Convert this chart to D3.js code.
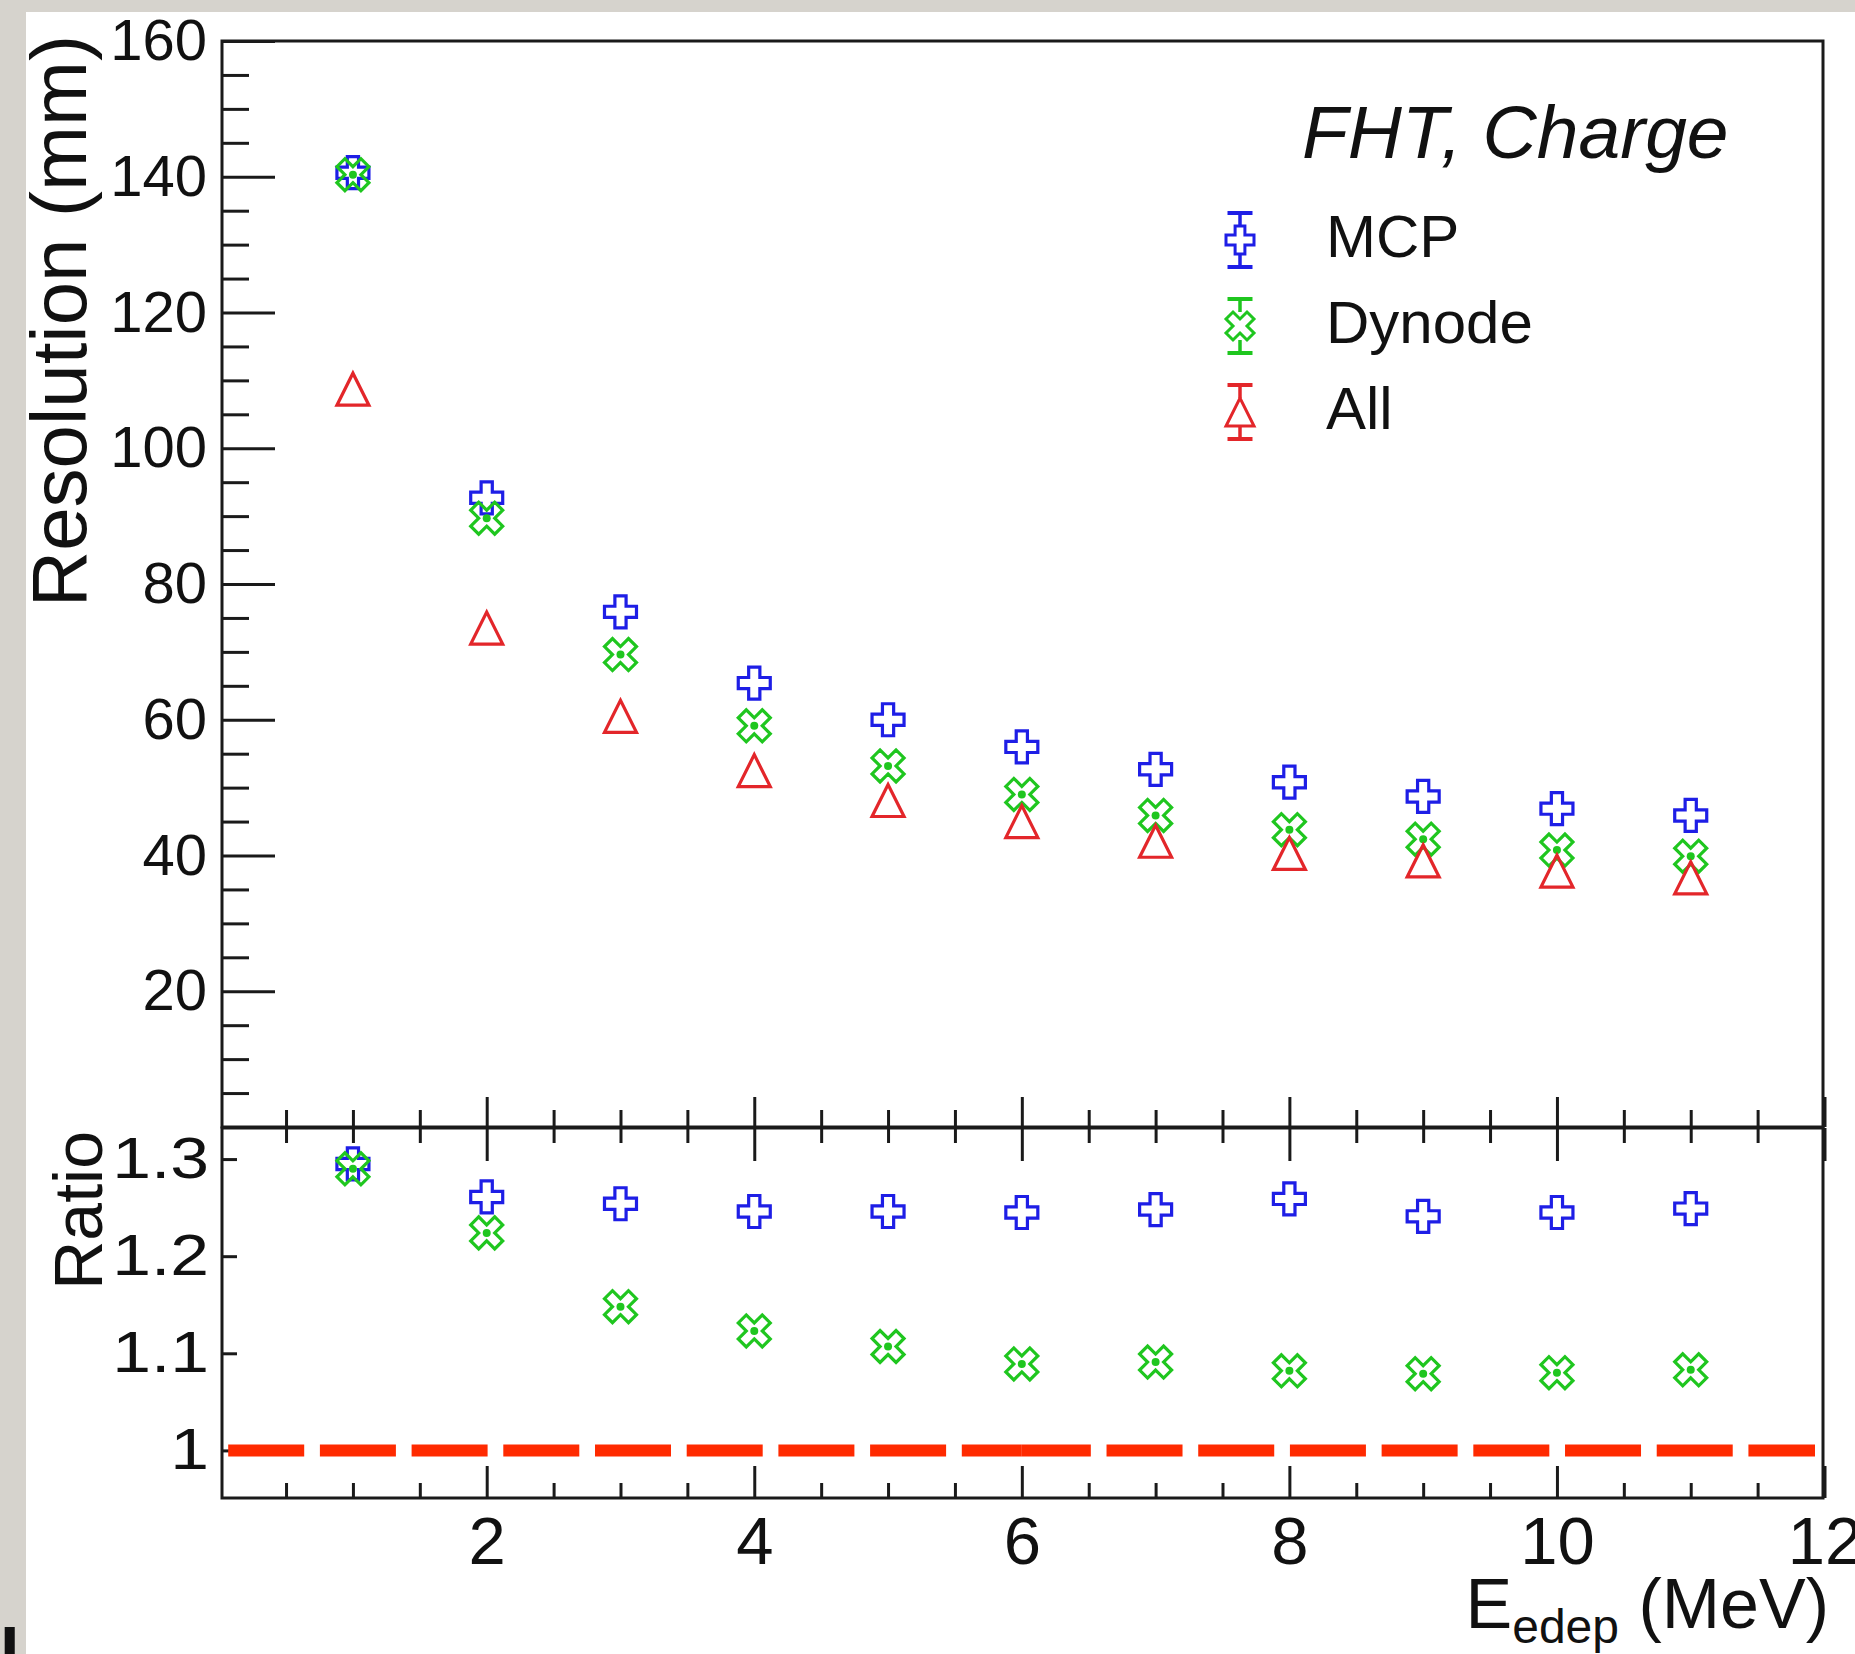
<!DOCTYPE html>
<html>
<head>
<meta charset="utf-8">
<script src="https://cdn.jsdelivr.net/npm/d3@7"></script>
<style>
  html, body { margin: 0; padding: 0; background: #d8d5cf; }
  svg { display: block; }
  text { font-family: "Liberation Sans", Arial, Helvetica, sans-serif; fill: #111; }
</style>
</head>
<body>
<svg id="chart" width="1855" height="1654"></svg>
<script>
// ---- data -------------------------------------------------------------
const energies = [1, 2, 3, 4, 5, 6, 7, 8, 9, 10, 11];           // E_edep (MeV)
const resMCP    = [140.6, 92.7, 75.9, 65.4, 60.0, 56.0, 52.7, 50.8, 48.7, 46.9, 45.9];
const resDynode = [140.3, 89.7, 69.6, 59.1, 53.2, 49.0, 45.9, 43.8, 42.4, 40.8, 39.9];
const resAll    = [108.7, 73.5, 60.5, 52.5, 48.1, 45.0, 42.1, 40.3, 39.2, 37.7, 36.7];
const ratioMCP    = [1.295, 1.261, 1.254, 1.246, 1.246, 1.245, 1.248, 1.259, 1.241, 1.245, 1.249];
const ratioDynode = [1.290, 1.224, 1.148, 1.123, 1.107, 1.089, 1.091, 1.082, 1.079, 1.080, 1.083];
const seriesNames = ["MCP", "Dynode", "All"];
const headerText = "FHT, Charge";
const xMajorTicks = [2, 4, 6, 8, 10, 12];
const yTopMajorTicks = [20, 40, 60, 80, 100, 120, 140, 160];
const yLowMajorTicks = [1, 1.1, 1.2, 1.3];
const refLineKnots = [6, 12];   // reference line y = 1 is drawn in two pieces

// ---- layout -----------------------------------------------------------
const W = 1855, H = 1654;
const F = { left: 222, right: 1823, top: 41, mid: 1127, midLow: 1128, bottom: 1498 };
const INK = "#1a1a1a";
const COL = { MCP: "#1e1ee6", Dynode: "#1fc61f", All: "#e3262a", ref: "#ff2a00" };

const svg = d3.select("#chart");
svg.append("rect").attr("width", W).attr("height", H).attr("fill", "#d6d3cd");
svg.append("rect").attr("x", 26).attr("y", 12).attr("width", W - 26).attr("height", H - 12).attr("fill", "#fff");

const x = d3.scaleLinear().domain([0.04, 12]).range([F.left + 2.5, F.right + 1.5]);
const yTop = d3.scaleLinear().domain([0, 160]).range([F.mid, F.top]);
const yLow = d3.scaleLinear().domain([0.951, 1.332]).range([F.bottom, F.midLow]);

const xMinor = d3.range(0.5, 12, 0.5).filter(v => v % 2 !== 0);
const yTopMinor = d3.range(5, 160, 5).filter(v => v % 20 !== 0);

function tidy(g) {
  g.select(".domain").remove();
  g.selectAll(".tick line").attr("stroke", INK).attr("stroke-width", 3);
  return g;
}

// ---- upper pad: axes ---------------------------------------------------
const gTopY = svg.append("g").attr("transform", `translate(${F.left},0)`)
  .call(d3.axisLeft(yTop).tickValues(yTopMajorTicks).tickSize(-53).tickPadding(15).tickFormat(d3.format("d")));
tidy(gTopY).selectAll("text").attr("font-size", 58).attr("fill", "#111");
tidy(svg.append("g").attr("transform", `translate(${F.left},0)`)
  .call(d3.axisLeft(yTop).tickValues(yTopMinor).tickSize(-27).tickFormat("")));

tidy(svg.append("g").attr("transform", `translate(0,${F.mid})`)
  .call(d3.axisBottom(x).tickValues(xMajorTicks).tickSize(-30).tickFormat("")));
tidy(svg.append("g").attr("transform", `translate(0,${F.mid})`)
  .call(d3.axisBottom(x).tickValues(xMinor).tickSize(-17).tickFormat("")));

// ---- lower pad: axes ---------------------------------------------------
tidy(svg.append("g").attr("transform", `translate(0,${F.midLow})`)
  .call(d3.axisTop(x).tickValues(xMajorTicks).tickSize(-33).tickFormat("")));
tidy(svg.append("g").attr("transform", `translate(0,${F.midLow})`)
  .call(d3.axisTop(x).tickValues(xMinor).tickSize(-15).tickFormat("")));

const gLowX = svg.append("g").attr("transform", `translate(0,${F.bottom})`)
  .call(d3.axisBottom(x).tickValues(xMajorTicks).tickSize(-32).tickPadding(18).tickFormat(d3.format("d")));
tidy(gLowX).selectAll("text").attr("font-size", 67).attr("fill", "#111");
tidy(svg.append("g").attr("transform", `translate(0,${F.bottom})`)
  .call(d3.axisBottom(x).tickValues(xMinor).tickSize(-15).tickFormat("")));

const gLowY = svg.append("g").attr("transform", `translate(${F.left},0)`)
  .call(d3.axisLeft(yLow).tickValues(yLowMajorTicks).tickSize(-15).tickPadding(13)
    .tickFormat(d => d === 1 ? "1" : d3.format(".1f")(d)));
tidy(gLowY).selectAll("text").attr("font-size", 58).attr("fill", "#111")
  .attr("x", -13 / 1.2).attr("transform", "scale(1.2,1)");

// ---- frames ------------------------------------------------------------
svg.append("rect").attr("x", F.left).attr("y", F.top).attr("width", F.right - F.left).attr("height", F.mid - F.top)
  .attr("fill", "none").attr("stroke", INK).attr("stroke-width", 3);
svg.append("rect").attr("x", F.left).attr("y", F.midLow).attr("width", F.right - F.left).attr("height", F.bottom - F.midLow)
  .attr("fill", "none").attr("stroke", INK).attr("stroke-width", 3);

// ---- reference line at ratio = 1 --------------------------------------
const refPieces = [[x.domain()[0], refLineKnots[0]], [refLineKnots[0], refLineKnots[1]]];
const refOffsets = [88, 7];
svg.append("g").selectAll("line").data(refPieces).join("line")
  .attr("x1", d => x(d[0])).attr("x2", d => Math.min(x(d[1]), F.right - 8))
  .attr("y1", yLow(1)).attr("y2", yLow(1))
  .attr("stroke", COL.ref).attr("stroke-width", 12)
  .attr("stroke-dasharray", "76,15.7")
  .attr("stroke-dashoffset", (d, i) => refOffsets[i]);

// ---- marker shapes -----------------------------------------------------
function crossPath(r) {
  const a = r * 0.35;
  return `M${-a},${-r}H${a}V${-a}H${r}V${a}H${a}V${r}H${-a}V${a}H${-r}V${-a}H${-a}Z`;
}
function crossXPath(r) {
  const h = r / 2;
  const p = [[0, h], [h, r], [r, h], [h, 0], [r, -h], [h, -r], [0, -h], [-h, -r], [-r, -h], [-h, 0], [-r, h], [-h, r]];
  return "M" + p.map(q => q.join(",")).join("L") + "Z";
}
function triPath(r) {
  return `M${-r},${r}L${r},${r}L0,${-r}Z`;
}
const shape = { MCP: crossPath, Dynode: crossXPath, All: triPath };

function drawMarkers(values, yScale, name, r) {
  const g = svg.append("g");
  const pts = energies.map((e, i) => ({ e, v: values[i] }));
  g.selectAll("path").data(pts).join("path")
    .attr("transform", d => `translate(${x(d.e)},${yScale(d.v)})`)
    .attr("d", shape[name](r))
    .attr("fill", "none").attr("stroke", COL[name]).attr("stroke-width", 3.2)
    .attr("stroke-linejoin", "miter");
  if (name === "Dynode") {
    g.selectAll("circle").data(pts).join("circle")
      .attr("cx", d => x(d.e)).attr("cy", d => yScale(d.v)).attr("r", 4)
      .attr("fill", COL[name]);
  }
}

const R = 16;
drawMarkers(resMCP, yTop, "MCP", R);
drawMarkers(resDynode, yTop, "Dynode", R);
drawMarkers(resAll, yTop, "All", R);
drawMarkers(ratioMCP, yLow, "MCP", R);
drawMarkers(ratioDynode, yLow, "Dynode", R);

// ---- legend ------------------------------------------------------------
svg.append("text").attr("x", 1302).attr("y", 158).attr("font-size", 75)
  .attr("font-style", "italic").text(headerText);

const legY = [240, 326, 412];
const legX = 1240, legR = 14, barHalf = 27, capHalf = 12.5;
seriesNames.forEach((name, i) => {
  const g = svg.append("g").attr("transform", `translate(${legX},${legY[i]})`);
  const c = COL[name];
  g.append("line").attr("x1", 0).attr("x2", 0).attr("y1", -barHalf).attr("y2", -legR).attr("stroke", c).attr("stroke-width", 3.5);
  g.append("line").attr("x1", 0).attr("x2", 0).attr("y1", legR).attr("y2", barHalf).attr("stroke", c).attr("stroke-width", 3.5);
  g.append("line").attr("x1", -capHalf).attr("x2", capHalf).attr("y1", -barHalf).attr("y2", -barHalf).attr("stroke", c).attr("stroke-width", 4);
  g.append("line").attr("x1", -capHalf).attr("x2", capHalf).attr("y1", barHalf).attr("y2", barHalf).attr("stroke", c).attr("stroke-width", 4);
  g.append("path").attr("d", shape[name](legR)).attr("fill", "none").attr("stroke", c).attr("stroke-width", 3);
  svg.append("text").attr("x", 1326).attr("y", legY[i] + 17).attr("font-size", 60).text(name);
});

// ---- axis titles -------------------------------------------------------
svg.append("text").attr("transform", "translate(86,35) rotate(-90)")
  .attr("text-anchor", "end").attr("font-size", 78).text("Resolution (mm)");
svg.append("text").attr("transform", "translate(102,1131) rotate(-90)")
  .attr("text-anchor", "end").attr("font-size", 68).text("Ratio");

const xt = svg.append("text").attr("x", 1829).attr("y", 1628).attr("text-anchor", "end").attr("font-size", 70);
xt.append("tspan").text("E");
xt.append("tspan").attr("font-size", 48).attr("dy", 15).text("edep");
xt.append("tspan").attr("dy", -15).text(" (MeV)");

// stray glyph at the lower-left corner
svg.append("text").attr("x", 0).attr("y", 1676).attr("font-size", 70)
  .attr("font-family", "Liberation Serif, serif").attr("font-weight", "bold").attr("fill", "#000").text("I");
</script>
</body>
</html>
